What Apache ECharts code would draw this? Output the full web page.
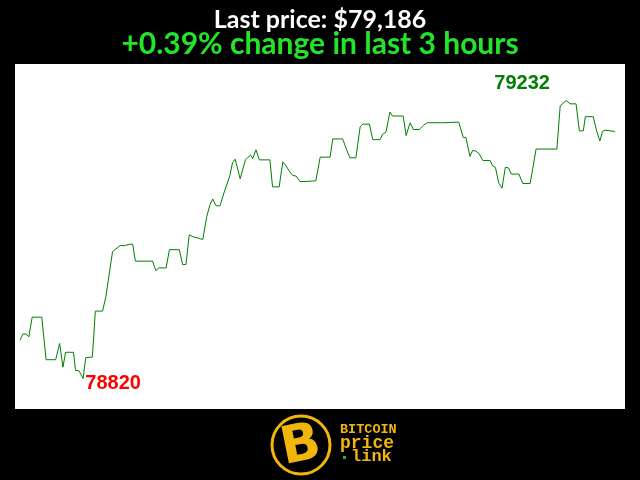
<!DOCTYPE html>
<html>
<head>
<meta charset="utf-8">
<script src="https://cdn.jsdelivr.net/npm/echarts@6/dist/echarts.min.js"></script>
<style>html,body{margin:0;padding:0;background:#000;}#c{width:640px;height:480px;}</style>
</head>
<body>
<div id="c"></div>
<script>
// minutes since start of the 3-hour window
var times = [0,0.9,1.8,2.7,3.7,6.6,7.9,10.8,12.0,13.0,13.8,16.2,16.8,17.8,19.1,19.9,21.9,22.8,25.0,26.0,
  28.0,29.0,30.3,31.7,33.1,34.1,34.9,40.1,41.1,42.0,44.2,45.2,48.2,49.2,50.2,51.2,52.4,54.1,55.3,56.5,
  57.5,58.3,59.3,60.5,61.7,63.5,64.3,65.1,66.6,68.2,69.0,69.8,70.4,71.4,72.4,75.6,76.4,78.4,79.5,80.5,
  81.5,82.5,83.5,84.7,86.7,87.1,89.5,90.8,93.8,94.6,97.6,98.8,99.8,101.6,102.9,103.7,105.7,106.7,108.9,109.7,
  110.7,111.9,112.7,115.9,116.8,118.0,119.0,120.8,122.0,123.2,128.0,128.5,132.7,133.1,134.1,134.9,136.1,136.9,137.9,138.9,
  140.0,142.2,143.0,143.8,144.8,145.8,146.8,147.8,148.6,150.9,152.1,154.3,155.1,156.1,162.4,163.4,164.0,165.2,166.4,168.2,
  169.2,170.4,171.0,173.4,174.4,175.4,176.2,177.0,180.0];
var prices = [78877,78886,78886,78882,78911,78911,78848,78848,78872,78837,78859,78859,78832,78832,78820,78851,78852,78920,78920,78942,
  79008,79012,79017,79017,79019,79019,78994,78994,78980,78984,78984,79011,79011,78989,78989,79033,79030,79028,79026,79060,
  79078,79086,79076,79076,79095,79121,79140,79145,79116,79144,79148,79151,79146,79159,79144,79144,79104,79104,79141,79135,
  79127,79121,79120,79112,79112,79113,79113,79148,79148,79175,79175,79159,79147,79147,79193,79197,79197,79174,79174,79182,
  79185,79215,79209,79209,79180,79199,79189,79189,79195,79199,79199,79200,79200,79201,79177,79177,79149,79158,79157,79153,
  79143,79143,79135,79133,79110,79102,79133,79132,79123,79123,79109,79109,79131,79160,79160,79224,79224,79232,79227,79227,
  79187,79187,79208,79208,79187,79172,79186,79188,79186];
var titleLine1 = 'Last price: $79,186';
var titleLine2 = '+0.39% change in last 3 hours';
var logoLines = ['BITCOIN', 'price', 'link'];

var data = times.map(function (t, i) { return [t, prices[i]]; });
var chart = echarts.init(document.getElementById('c'), null, {renderer: 'canvas'});
var yellow = '#f2b50c';
chart.setOption({
  backgroundColor: '#000',
  animation: false,
  title: [
    {text: titleLine1, left: 'center', top: 2, textStyle: {color: '#fff', fontFamily: 'Lato', fontWeight: 'bold', fontSize: 25}},
    {text: titleLine2, left: 'center', top: 24, textStyle: {color: '#22e52a', fontFamily: 'Lato', fontWeight: 'bold', fontSize: 30}}
  ],
  grid: {left: 15, right: 15, top: 64, bottom: 71, show: true, backgroundColor: '#fff', borderWidth: 0},
  xAxis: {type: 'value', min: -1.5, max: 183, show: false},
  yAxis: {type: 'value', min: 78775, max: 79286, show: false},
  series: [{
    type: 'line', data: data, symbol: 'none', lineStyle: {color: '#008000', width: 1},
    markPoint: {
      symbolSize: 0,
      data: [
        {type: 'max', label: {show: true, color: '#008000', fontSize: 20, fontWeight: 'bold', fontFamily: 'Liberation Sans', offset: [-44, -17], formatter: function (p) { return p.value; }}},
        {type: 'min', label: {show: true, color: '#ff0000', fontSize: 20, fontWeight: 'bold', fontFamily: 'Liberation Sans', offset: [30, 5], formatter: function (p) { return p.value; }}}
      ]
    }
  }],
  graphic: [
    {type: 'circle', shape: {cx: 301, cy: 445, r: 29}, style: {fill: '#000', stroke: yellow, lineWidth: 3}},
    {type: 'text', x: 301, y: 447, rotation: 0.2, style: {text: 'B', fill: yellow, font: 'bold 52px "DejaVu Sans"', align: 'center', verticalAlign: 'middle'}},
    {type: 'text', x: 340, y: 430, style: {text: logoLines[0], fill: yellow, font: 'bold 13.5px "Liberation Mono"', verticalAlign: 'middle'}},
    {type: 'text', x: 340, y: 443, style: {text: logoLines[1], fill: yellow, font: 'bold 18px "Liberation Mono"', verticalAlign: 'middle'}},
    {type: 'rect', shape: {x: 343, y: 456, width: 3, height: 3}, style: {fill: '#2db52d'}},
    {type: 'text', x: 351, y: 457, style: {text: logoLines[2], fill: yellow, font: 'bold 17px "Liberation Mono"', verticalAlign: 'middle'}}
  ]
});
</script>
</body>
</html>
